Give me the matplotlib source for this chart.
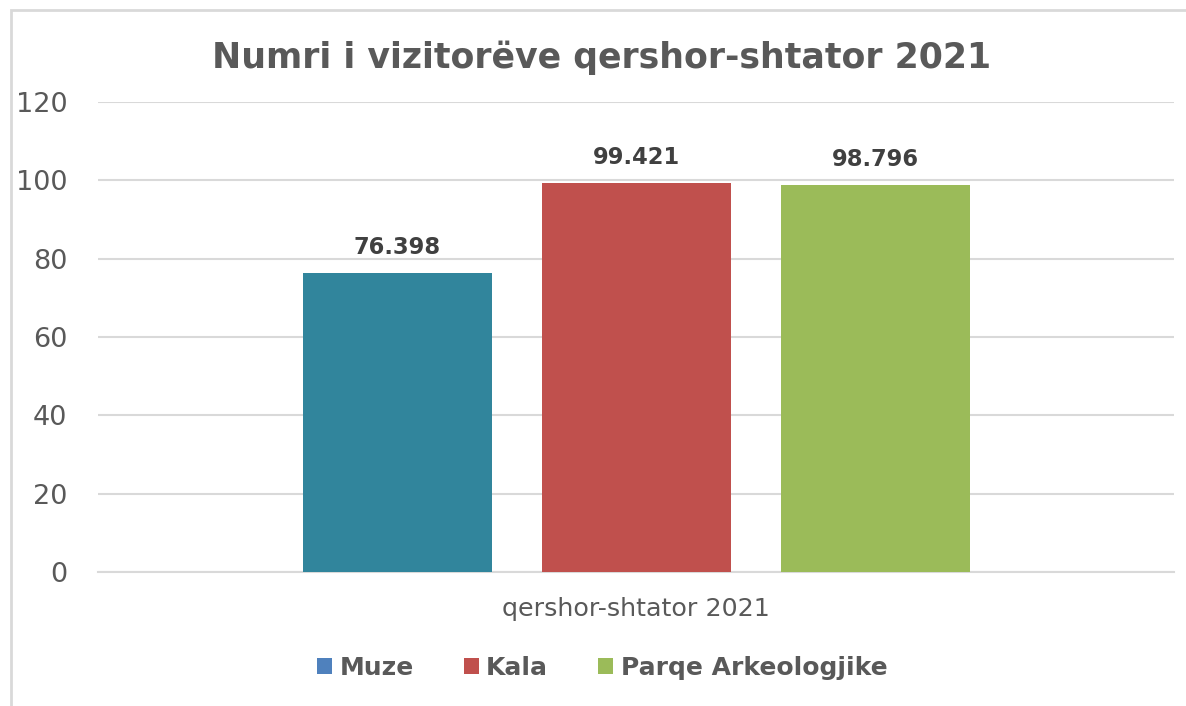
import matplotlib.pyplot as plt
from matplotlib.patches import Rectangle, Patch

#Data
categories = ['Muze', 'Kala', 'Parqe Arkeologjike']
values = [76.398, 99.421, 98.796]
value_labels = ['76.398', '99.421', '98.796']
group_label = 'qershor-shtator 2021'
yticks = [0, 20, 40, 60, 80, 100, 120]

#Colors
bar_colors = ['#31859C', '#C0504D', '#9BBB59']
legend_colors = ['#4F81BD', '#C0504D', '#9BBB59']
text_color = '#595959'
grid_color = '#D9D9D9'

plt.rcParams['font.family'] = ['DejaVu Sans']

fig = plt.figure(figsize=(11.86, 7.06), dpi=100)
ax = fig.add_axes([98/1186, 1 - 572/706, 1076/1186, 470/706])

#outer chart border (left/top visible)
fig.patches.append(Rectangle((11/1186, -0.05), 1.2, 1 - 10/706 + 0.05,
                             transform=fig.transFigure, fill=False,
                             edgecolor='#D9D9D9', linewidth=2))

bar_w = 189/1076
step = 239/1076
for i, (v, c, lab) in enumerate(zip(values, bar_colors, value_labels)):
    x = (i - 1) * step
    ax.bar(x, v, width=bar_w, color=c, zorder=3)
    ax.text(x, v + 3.5, lab, ha='center', va='bottom', fontsize=16.3,
            fontweight='bold', color='#404040')

ax.set_xlim(-0.5, 0.5)
ax.set_ylim(0, 120)
ax.set_yticks(yticks)
ax.set_yticklabels([str(t) for t in yticks], fontsize=19.5, color=text_color)
ax.tick_params(axis='y', length=0, pad=22)
ax.set_xticks([0])
ax.set_xticklabels([group_label], fontsize=18.3, color=text_color)
ax.tick_params(axis='x', length=0, pad=18)
ax.grid(axis='y', color=grid_color, linewidth=1.5, zorder=0)
for s in ['top', 'right', 'left']:
    ax.spines[s].set_visible(False)
ax.spines['bottom'].set_color(grid_color)
ax.spines['bottom'].set_linewidth(1.5)

fig.text(602/1186, 1 - 58/706, 'Numri i vizitorëve qershor-shtator 2021',
         ha='center', va='center', fontsize=25, fontweight='bold', color=text_color)

handles = [Patch(facecolor=c) for c in legend_colors]
leg = fig.legend(handles, categories, loc='center', bbox_to_anchor=(602/1186, 1 - 668/706),
                 ncol=3, frameon=False, handlelength=0.6, handleheight=0.6,
                 handletextpad=0.3, columnspacing=2.0,
                 prop={'size': 18, 'weight': 'bold'})
for t in leg.get_texts():
    t.set_color(text_color)

fig.savefig('out.png', dpi=100)
